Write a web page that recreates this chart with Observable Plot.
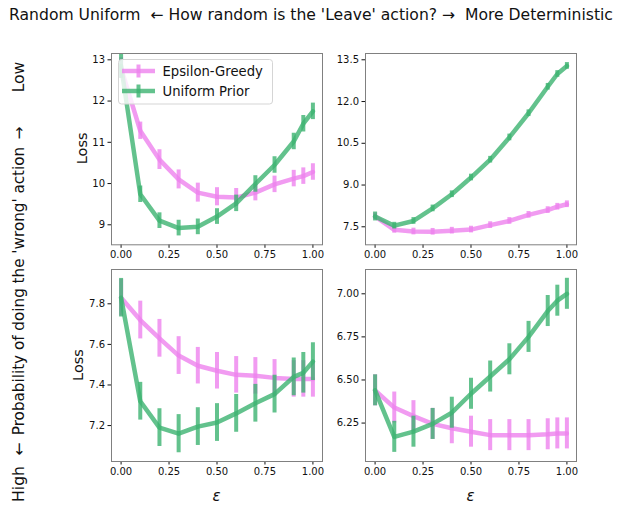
<!DOCTYPE html>
<html><head><meta charset="utf-8">
<script src="https://cdn.jsdelivr.net/npm/d3@7"></script>
<script src="https://cdn.jsdelivr.net/npm/@observablehq/plot@0.6"></script>
<style>
body{margin:0;background:#fff;}
#fig{position:relative;width:623px;height:513px;overflow:hidden;font-family:"DejaVu Sans",sans-serif;background:#fff;}
.panel{position:absolute;}
#overlay{position:absolute;left:0;top:0;pointer-events:none;}
</style></head><body><div id="fig"></div>
<script>
// epsilon values (x)
const eps = [0, 0.1, 0.2, 0.3, 0.4, 0.5, 0.6, 0.7, 0.8, 0.9, 0.95, 1.0];
const xTicks = [0, 0.25, 0.5, 0.75, 1.0];

// Top-left (Low wrong-action prob, random uniform leave)
const tlGreedy     = [12.80, 11.28, 10.58, 10.10, 9.78, 9.68, 9.66, 9.78, 9.98, 10.12, 10.18, 10.28];
const tlGreedyErr  = [0.25, 0.21, 0.24, 0.23, 0.23, 0.22, 0.22, 0.2, 0.2, 0.2, 0.2, 0.2];
const tlUniform    = [12.85, 9.74, 9.10, 8.92, 8.95, 9.20, 9.52, 9.99, 10.45, 11.02, 11.45, 11.75];
const tlUniformErr = [0.3, 0.2, 0.19, 0.19, 0.19, 0.19, 0.2, 0.2, 0.2, 0.2, 0.2, 0.2];
const tlYTicks = [9, 10, 11, 12, 13];

// Top-right (Low wrong-action prob, more deterministic leave)
const trGreedy     = [7.87, 7.39, 7.33, 7.32, 7.36, 7.40, 7.56, 7.71, 7.93, 8.10, 8.22, 8.31];
const trGreedyErr  = [0.12, 0.12, 0.12, 0.12, 0.12, 0.12, 0.12, 0.12, 0.12, 0.12, 0.12, 0.12];
const trUniform    = [7.87, 7.54, 7.71, 8.16, 8.67, 9.27, 9.91, 10.71, 11.58, 12.53, 12.99, 13.28];
const trUniformErr = [0.16, 0.12, 0.12, 0.12, 0.12, 0.12, 0.12, 0.12, 0.12, 0.12, 0.12, 0.12];
const trYTicks = [7.5, 9.0, 10.5, 12.0, 13.5];

// Bottom-left (High wrong-action prob, random uniform leave)
const blGreedy     = [7.83, 7.72, 7.63, 7.545, 7.495, 7.47, 7.45, 7.445, 7.435, 7.43, 7.43, 7.43];
const blGreedyErr  = [0.09, 0.093, 0.093, 0.093, 0.09, 0.09, 0.09, 0.09, 0.09, 0.09, 0.09, 0.09];
const blUniform    = [7.83, 7.32, 7.19, 7.16, 7.195, 7.215, 7.26, 7.31, 7.355, 7.44, 7.46, 7.515];
const blUniformErr = [0.095, 0.093, 0.093, 0.094, 0.093, 0.093, 0.093, 0.093, 0.093, 0.093, 0.1, 0.093];
const blYTicks = [7.2, 7.4, 7.6, 7.8];

// Bottom-right (High wrong-action prob, more deterministic leave)
const brGreedy     = [6.44, 6.34, 6.29, 6.245, 6.22, 6.20, 6.18, 6.18, 6.18, 6.185, 6.19, 6.19];
const brGreedyErr  = [0.09, 0.09, 0.09, 0.09, 0.09, 0.09, 0.09, 0.09, 0.09, 0.09, 0.09, 0.09];
const brUniform    = [6.44, 6.17, 6.20, 6.245, 6.31, 6.42, 6.52, 6.62, 6.75, 6.90, 6.96, 7.00];
const brUniformErr = [0.09, 0.09, 0.09, 0.09, 0.09, 0.09, 0.09, 0.09, 0.09, 0.09, 0.09, 0.09];
const brYTicks = [6.25, 6.50, 6.75, 7.00];

const seriesNames = ["Epsilon-Greedy", "Uniform Prior"];
const pinkColor = "violet";
const greenColor = "mediumseagreen";

const titleText = "Random Uniform  \u2190 How random is the 'Leave' action? \u2192  More Deterministic";
const sideHigh = "High", sideLow = "Low";
const sideMid = "Probability of doing the 'wrong' action";

function rows(vals, errs) {
  return eps.map((e, i) => ({eps: e, v: vals[i], lo: vals[i] - errs[i], hi: vals[i] + errs[i]}));
}

const panels = [
  {left: 111, top: 52.7, w: 211, h: 191.3, domain: [8.515, 13.153], ticks: tlYTicks, fmt: d3.format("d"),
   g: rows(tlGreedy, tlGreedyErr), u: rows(tlUniform, tlUniformErr)},
  {left: 365, top: 52.7, w: 211, h: 191.3, domain: [6.853, 13.726], ticks: trYTicks, fmt: d3.format(".1f"),
   g: rows(trGreedy, trGreedyErr), u: rows(trUniform, trUniformErr)},
  {left: 111, top: 269, w: 211, h: 192, domain: [7.023, 7.969], ticks: blYTicks, fmt: d3.format(".1f"),
   g: rows(blGreedy, blGreedyErr), u: rows(blUniform, blUniformErr)},
  {left: 365, top: 269, w: 211, h: 192, domain: [6.027, 7.141], ticks: brYTicks, fmt: d3.format(".2f"),
   g: rows(brGreedy, brGreedyErr), u: rows(brUniform, brUniformErr)}
];

const fig = document.getElementById("fig");
const mL = 50, mR = 8, mT = 8, mB = 28;

for (const p of panels) {
  const chart = Plot.plot({
    width: p.w + mL + mR, height: p.h + mT + mB,
    marginLeft: mL, marginRight: mR, marginTop: mT, marginBottom: mB,
    style: {fontFamily: "DejaVu Sans", fontSize: "10px", color: "#111", background: "transparent", overflow: "visible"},
    x: {domain: [-0.05, 1.05], ticks: xTicks, tickFormat: d3.format(".2f"), tickSize: 3.5, tickPadding: 3, label: null},
    y: {domain: p.domain, ticks: p.ticks, tickFormat: p.fmt, tickSize: 3.5, tickPadding: 3, label: null},
    marks: [
      Plot.ruleX(p.g, {x: "eps", y1: "lo", y2: "hi", stroke: pinkColor, strokeWidth: 4, strokeOpacity: 0.8}),
      Plot.line(p.g, {x: "eps", y: "v", stroke: pinkColor, strokeWidth: 4.5, strokeOpacity: 0.8}),
      Plot.ruleX(p.u, {x: "eps", y1: "lo", y2: "hi", stroke: greenColor, strokeWidth: 4, strokeOpacity: 0.8}),
      Plot.line(p.u, {x: "eps", y: "v", stroke: greenColor, strokeWidth: 4.5, strokeOpacity: 0.8}),
      Plot.frame({stroke: "#808080", strokeWidth: 1})
    ]
  });
  const div = document.createElement("div");
  div.className = "panel";
  div.style.left = (p.left - mL) + "px";
  div.style.top = (p.top - mT) + "px";
  div.appendChild(chart);
  fig.appendChild(div);
}

// overlay: titles, axis labels, legend
const svg = d3.select(fig).append("svg").attr("id", "overlay")
  .attr("width", 623).attr("height", 513)
  .style("font-family", "DejaVu Sans, sans-serif");

svg.append("text").attr("x", 311).attr("y", 20).attr("text-anchor", "middle")
  .attr("font-size", 15.6).attr("fill", "#111").style("white-space", "pre").text(titleText);

// side label pieces (rotated), positioned along the left edge
const sidePieces = [[sideLow, 15.6, 77], ["\u2192", 15.6, 133], [sideMid, 15.2, 291], ["\u2190", 15.6, 449], [sideHigh, 15.6, 484]];
for (const [t, fs, y] of sidePieces) {
  svg.append("text").attr("transform", `translate(24,${y}) rotate(-90)`).attr("text-anchor", "middle")
    .attr("font-size", fs).attr("fill", "#111").text(t);
}

for (const [x, y] of [[81.5, 148.3], [77.5, 365]]) {
  svg.append("text").attr("transform", `translate(${x + 5},${y}) rotate(-90)`).attr("text-anchor", "middle")
    .attr("font-size", 14.5).attr("fill", "#111").text("Loss");
}
for (const x of [216.5, 470.5]) {
  svg.append("text").attr("x", x).attr("y", 501).attr("text-anchor", "middle")
    .attr("font-size", 15).attr("font-style", "italic").attr("fill", "#111").text("\u03b5");
}

// legend
const lg = svg.append("g");
lg.append("rect").attr("x", 118.5).attr("y", 59.5).attr("width", 154).attr("height", 44.5)
  .attr("rx", 3).attr("fill", "white").attr("fill-opacity", 0.8).attr("stroke", "#d5d5d5");
[[pinkColor, 71], [greenColor, 91]].forEach(([c, y], i) => {
  lg.append("line").attr("x1", 122).attr("x2", 155).attr("y1", y).attr("y2", y)
    .attr("stroke", c).attr("stroke-width", 4.5).attr("stroke-opacity", 0.8);
  lg.append("line").attr("x1", 138.5).attr("x2", 138.5).attr("y1", y - 6.5).attr("y2", y + 6.5)
    .attr("stroke", c).attr("stroke-width", 4).attr("stroke-opacity", 0.8);
  lg.append("text").attr("x", 162.5).attr("y", y).attr("dy", "0.36em")
    .attr("font-size", 13.2).attr("fill", "#111").text(seriesNames[i]);
});
</script></body></html>
